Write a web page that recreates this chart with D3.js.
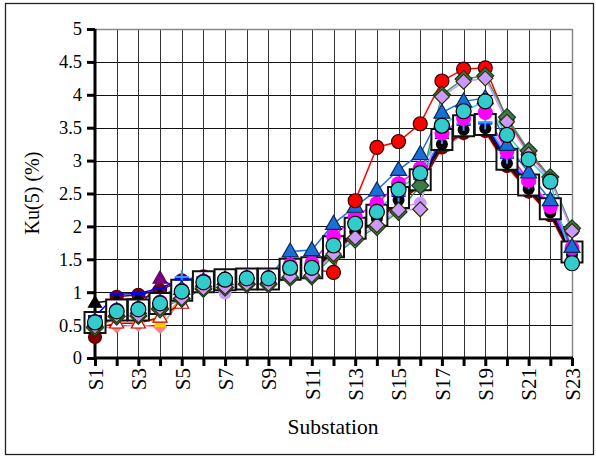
<!DOCTYPE html>
<html><head><meta charset="utf-8">
<script src="https://cdn.jsdelivr.net/npm/d3@7/dist/d3.min.js"></script>
<style>body{margin:0;background:#fff}svg{display:block}text{font-family:"Liberation Serif","Times New Roman",serif;fill:#000}</style>
</head><body><svg id="c" width="596" height="459"></svg>
<script>
const categories = d3.range(1,24).map(i=>"S"+i);
const yTicks = [0,0.5,1,1.5,2,2.5,3,3.5,4,4.5,5];
const xLabels = ["S1","S3","S5","S7","S9","S11","S13","S15","S17","S19","S21","S23"];

const salmonDiamond = [0.45,0.48,0.50,0.47,0.88,1.10,1.14,1.16,1.16,1.30,1.31,1.60,1.88,2.08,2.36,2.62,3.18,3.40,3.43,2.90,2.52,2.16,1.52];
const yellowSquare  = [0.45,0.61,0.60,0.55,0.92,1.12,1.16,1.18,1.18,1.32,1.33,1.63,1.92,2.12,2.40,2.66,3.24,3.46,3.49,2.96,2.57,2.21,1.57];
const redOpenTri    = [0.45,0.53,0.53,0.62,0.83,1.10,1.15,1.18,1.18,1.30,1.32,1.62,1.90,2.10,2.38,2.64,3.22,3.44,3.47,2.94,2.55,2.19,1.55];
const lavCircle     = [0.50,0.66,0.68,0.78,0.95,1.08,0.99,1.14,1.14,1.28,1.30,1.60,1.88,2.05,2.30,2.35,3.40,3.60,3.65,3.10,2.70,2.35,1.70];
const maroonCircle  = [0.32,0.93,0.96,1.03,1.18,1.24,1.24,1.23,1.22,1.30,1.32,1.60,1.88,2.08,2.36,2.62,3.20,3.42,3.45,2.92,2.53,2.17,1.53];
const blackTri      = [0.84,0.88,0.91,0.96,1.05,1.16,1.18,1.19,1.19,1.33,1.35,1.65,1.95,2.15,2.42,2.68,3.28,3.50,3.52,2.98,2.60,2.24,1.58];
const purpleTri     = [0.55,0.72,0.74,1.21,1.02,1.15,1.18,1.20,1.20,1.34,1.36,1.66,1.96,2.16,2.43,2.70,3.30,3.51,3.53,3.00,2.61,2.25,1.60];
const openSquare    = [0.54,0.73,0.73,0.83,1.03,1.16,1.19,1.20,1.20,1.35,1.37,1.69,1.97,2.17,2.44,2.71,3.32,3.53,3.55,3.02,2.63,2.27,1.61];
const blackCircle   = [0.52,0.70,0.72,0.80,1.00,1.14,1.17,1.18,1.18,1.32,1.33,1.62,1.92,2.12,2.40,2.66,3.25,3.47,3.49,2.96,2.57,2.21,1.57];
const blueDash      = [0.63,0.97,0.98,1.06,1.20,1.22,1.22,1.22,1.22,1.36,1.38,1.70,2.00,2.20,2.47,2.73,3.35,3.55,3.57,3.05,2.66,2.30,1.63];
const lightBlueDash = [0.55,0.72,0.74,0.84,1.23,1.16,1.19,1.21,1.21,1.36,1.37,1.70,2.01,2.20,2.48,2.74,3.36,3.56,3.58,3.06,2.67,2.31,1.64];
const magentaCircle = [0.55,0.73,0.75,0.85,1.03,1.17,1.20,1.22,1.22,1.41,1.44,1.85,2.15,2.35,2.65,2.88,3.42,3.64,3.73,3.14,2.70,2.30,1.67];
const blueTri       = [0.56,0.72,0.76,0.84,1.05,1.17,1.20,1.21,1.22,1.62,1.64,2.04,2.30,2.55,2.86,3.10,3.73,3.90,3.95,3.24,2.82,2.40,1.69];
const redCircle     = [0.50,0.70,0.72,0.80,1.00,1.15,1.18,1.20,1.20,1.33,1.35,1.30,2.39,3.20,3.29,3.56,4.21,4.39,4.41,3.62,3.12,2.72,1.95];
const greenDiamond  = [0.46,0.63,0.64,0.74,0.90,1.05,1.07,1.12,1.12,1.22,1.24,1.55,1.80,1.99,2.22,2.62,4.00,4.24,4.29,3.66,3.15,2.75,1.97];
const lavDiamond    = [0.48,0.65,0.65,0.76,0.91,1.06,1.08,1.13,1.13,1.24,1.26,1.58,1.83,2.02,2.25,2.26,3.97,4.20,4.25,3.59,3.09,2.71,1.93];
const cyanCircle    = [0.54,0.71,0.74,0.83,1.01,1.15,1.19,1.21,1.21,1.37,1.37,1.71,2.04,2.22,2.56,2.81,3.53,3.75,3.90,3.39,3.02,2.68,1.44];

const series = [
  {v:salmonDiamond, line:"#FF8080", m:"diamond", s:7, fill:"#FF8080", stroke:"none"},
  {v:yellowSquare, line:"#FF9900", m:"square", s:11, fill:"#FFCC00", stroke:"none"},
  {v:redOpenTri, line:"#CC0000", m:"triangle", s:14, fill:"#fff", stroke:"#C00000"},
  {v:lavCircle, line:"#CC99FF", m:"circle", s:6.5, fill:"#CC99FF", stroke:"none"},
  {v:maroonCircle, line:"#800000", m:"circle", s:6.5, fill:"#800000", stroke:"#600000"},
  {v:blackTri, line:"#000000", m:"triangle", s:13, fill:"#000", stroke:"#000"},
  {v:purpleTri, line:"#800080", m:"triangle", s:14, fill:"#800080", stroke:"#600060"},
  {v:openSquare, line:"#000080", m:"square", s:21, fill:"#fff", stroke:"#111", sw:2},
  {v:blackCircle, line:"#000000", m:"circle", s:6, fill:"#000", stroke:"none"},
  {v:blueDash, line:"#0000FF", m:"dash", s:14, fill:"#0000FF", stroke:"none"},
  {v:lightBlueDash, line:"#3399FF", m:"plus", s:14, fill:"#3399FF", stroke:"#3399FF"},
  {v:magentaCircle, line:"#FF00FF", m:"circle", s:7.5, fill:"#FF00FF", stroke:"none"},
  {v:blueTri, line:"#1A6FD6", m:"triangle", s:16, fill:"#1A6FD6", stroke:"#0A2A5A"},
  {v:redCircle, line:"#FF0000", m:"circle", s:7, fill:"#FF0000", stroke:"#300"},
  {v:greenDiamond, line:"#339966", m:"diamond", s:8.5, fill:"#3C7A4A", stroke:"#1A3A1A"},
  {v:lavDiamond, line:"#CC99FF", m:"diamond", s:7.5, fill:"#CC99FF", stroke:"#333300"},
  {v:cyanCircle, line:"#33CCCC", m:"circle", s:7.5, fill:"#33CCCC", stroke:"#000"}
];

const svg = d3.select("#c");
const L=95, R=572, T=29, B=358;
const x = d3.scalePoint().domain(categories).range([L,R]);
const y = d3.scaleLinear().domain([0,5]).range([B,T]);

svg.append("rect").attr("x",5.5).attr("y",3.5).attr("width",588).attr("height",451)
  .attr("fill","#fff").attr("stroke","#222").attr("stroke-width",1.3);

svg.append("g").selectAll("line").data(yTicks.filter(d=>d>0&&d<5)).join("line")
  .attr("x1",L).attr("x2",R).attr("y1",d=>Math.round(y(d))+0.5).attr("y2",d=>Math.round(y(d))+0.5)
  .attr("stroke","#111").attr("stroke-width",1);
svg.append("g").selectAll("line").data(categories.slice(1,-1)).join("line")
  .attr("x1",d=>Math.round(x(d))+0.5).attr("x2",d=>Math.round(x(d))+0.5).attr("y1",T).attr("y2",B)
  .attr("stroke","#333").attr("stroke-width",1);
svg.append("line").attr("x1",L).attr("x2",R).attr("y1",T+0.5).attr("y2",T+0.5).attr("stroke","#888").attr("stroke-width",1.5);
svg.append("line").attr("x1",R+0.5).attr("x2",R+0.5).attr("y1",T).attr("y2",B).attr("stroke","#888").attr("stroke-width",1.5);

const yAxis = d3.axisLeft(y).tickValues(yTicks).tickSize(8).tickPadding(5).tickFormat(d3.format("~g"));
const gy = svg.append("g").attr("transform",`translate(${L},0)`).call(yAxis);
gy.select(".domain").attr("stroke","#000").attr("stroke-width",3).attr("d",`M0,${T}V${B}`);
gy.selectAll(".tick line").attr("stroke","#000").attr("stroke-width",3);
gy.selectAll("text").style("font-size","18.5px").style("font-family","Liberation Serif");

const xAxis = d3.axisBottom(x).tickSize(8).tickPadding(4).tickFormat(d=>xLabels.includes(d)?d:"");
const gx = svg.append("g").attr("transform",`translate(0,${B})`).call(xAxis);
gx.select(".domain").attr("stroke","#000").attr("stroke-width",3).attr("d",`M${L-1},0H${R+1}`);
gx.selectAll(".tick line").attr("stroke","#000").attr("stroke-width",3);
gx.selectAll("text").style("font-size","21px").style("font-family","Liberation Serif")
  .attr("transform","rotate(-90)").attr("text-anchor","end").attr("x",-10).attr("y",0).attr("dy","0.35em");

svg.append("text").attr("x",333).attr("y",434).attr("text-anchor","middle").style("font-size","21.5px").text("Substation");
svg.append("text").attr("transform","translate(39,193) rotate(-90)").attr("text-anchor","middle").style("font-size","20px").text("Ku(5) (%)");

const line = d3.line().x((d,i)=>x(categories[i])).y(d=>y(d));
function markerPath(m,s){
  if(m==="circle") return d3.symbol(d3.symbolCircle, Math.PI*s*s)();
  if(m==="square") return `M${-s/2},${-s/2}h${s}v${s}h${-s}Z`;
  if(m==="diamond") return `M0,${-s}L${s},0L0,${s}L${-s},0Z`;
  if(m==="triangle"){const h=s*0.87;return `M0,${-h*0.6}L${s/2},${h*0.4}L${-s/2},${h*0.4}Z`;}
  if(m==="dash") return `M${-s/2},-1.5h${s}v3h${-s}Z`;
  if(m==="plus") return `M${-s/2},0H${s/2}M0,${-s/2}V${s/2}`;
}
const gs = svg.append("g");
series.forEach(sr=>{
  gs.append("path").attr("d",line(sr.v)).attr("fill","none").attr("stroke",sr.line).attr("stroke-width",1.5);
});
series.forEach(sr=>{
  gs.append("g").selectAll("path").data(sr.v).join("path")
    .attr("transform",(d,i)=>`translate(${x(categories[i])},${y(d)})`)
    .attr("d",markerPath(sr.m,sr.s))
    .attr("fill",sr.m==="plus"?"none":sr.fill)
    .attr("stroke",sr.stroke).attr("stroke-width",sr.m==="plus"?2:(sr.sw||1.2));
});
</script></body></html>
